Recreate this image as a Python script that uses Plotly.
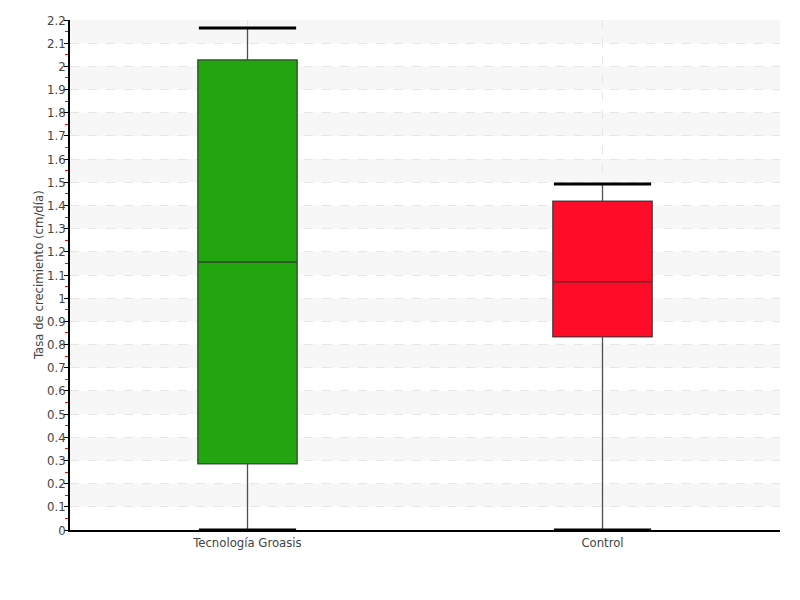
import plotly.graph_objects as go

categories = ["Tecnología Groasis", "Control"]
mins = [0.0, 0.0]
q1s = [0.285, 0.833]
medians = [1.156, 1.070]
q3s = [2.028, 1.419]
maxs = [2.166, 1.493]
colors = ["#22a50e", "#ff0d28"]
ytick_vals = [round(i * 0.1, 1) for i in range(23)]
ytick_text = ["0" if v == 0 else ("1" if v == 1 else ("2" if v == 2 else f"{v:g}")) for v in ytick_vals]
y_title = "Tasa de crecimiento (cm/día)"

font_family = "DejaVu Sans Condensed, Liberation Sans Narrow, sans-serif"

fig = go.Figure()

xs = list(range(len(categories)))
for i, cat in enumerate(categories):
    fig.add_trace(go.Box(
        x=[xs[i]], q1=[q1s[i]], median=[medians[i]], q3=[q3s[i]],
        lowerfence=[mins[i]], upperfence=[maxs[i]],
        width=0.28, fillcolor=colors[i],
        line=dict(color="rgba(50,50,50,0.85)", width=1.3),
        whiskerwidth=0, boxpoints=False, showlegend=False, name=cat,
        hoverinfo="skip",
    ))
    for yv in (mins[i], maxs[i]):
        fig.add_trace(go.Scatter(
            x=[xs[i] - 0.137, xs[i] + 0.137], y=[yv, yv], mode="lines",
            line=dict(color="black", width=3), showlegend=False, hoverinfo="skip",
        ))

shapes = []
for k in range(1, 22, 2):
    shapes.append(dict(type="rect", xref="paper", yref="y", x0=0, x1=1,
                       y0=ytick_vals[k], y1=ytick_vals[k + 1],
                       fillcolor="#f7f7f7", line=dict(width=0), layer="below"))

fig.update_layout(
    width=800, height=600,
    margin=dict(l=62, r=28, t=12, b=78),
    plot_bgcolor="white", paper_bgcolor="white",
    font=dict(family=font_family, color="#444", size=13),
    shapes=shapes,
    annotations=[dict(text=y_title, xref="paper", yref="paper", x=0, y=0.5,
                      xanchor="center", yanchor="middle", xshift=-32, textangle=-90,
                      showarrow=False, font=dict(size=13, color="#444"))],
    xaxis=dict(
        range=[-0.5, 1.5], tickvals=xs, ticktext=categories, automargin=False,
        showgrid=True, gridcolor="#e6e6e6", griddash="dash", gridwidth=1,
        showline=True, linecolor="black", linewidth=1.5,
        ticks="", zeroline=False, tickfont=dict(size=13, color="#444"),
    ),
    yaxis=dict(
        range=[0, 2.2], tickvals=ytick_vals, ticktext=ytick_text, automargin=False,
        showgrid=True, gridcolor="#e6e6e6", griddash="dash", gridwidth=1,
        showline=True, linecolor="black", linewidth=1.5,
        ticks="outside", ticklen=4, tickcolor="black", zeroline=False,
        ticklabelstandoff=-4,
        tickfont=dict(size=13, color="#444"),
        minor=dict(tickvals=[round(0.05 + i * 0.1, 2) for i in range(22)], ticks="outside",
                   ticklen=3, tickcolor="red", showgrid=False),
    ),
)

fig.write_html("out.html")
